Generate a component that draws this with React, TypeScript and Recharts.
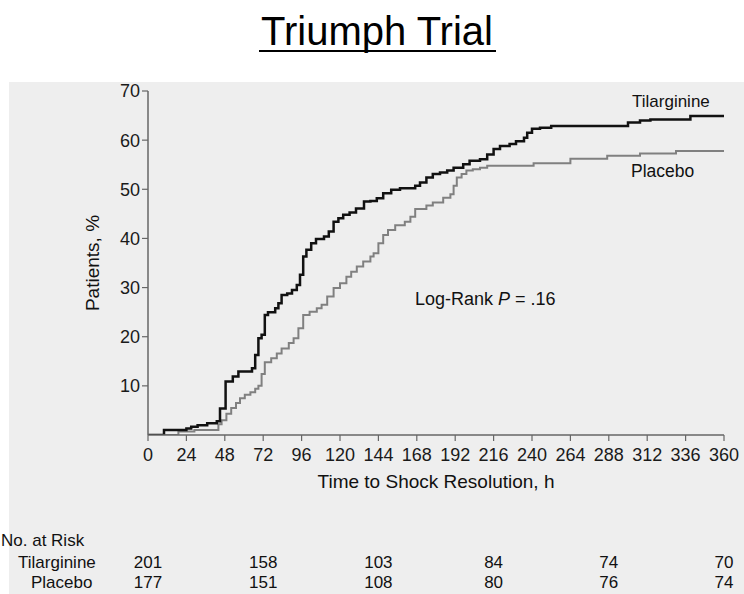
import React from 'react';
import { LineChart, Line, XAxis, YAxis } from 'recharts';

// ---- data ----
const tilargTimes = [0, 10, 24, 27, 31, 37, 43, 45, 48.5, 53, 56.5, 65, 67, 69, 71, 73, 75, 79.5, 81.5, 83.5, 87, 90, 93, 95, 97, 99, 102, 105, 110, 113, 116, 119, 122, 126, 130, 135, 139, 143, 147, 152, 157.5, 167, 170, 174, 178, 182.5, 187, 191, 197, 201, 207.5, 212, 216, 220, 226, 230, 235, 237, 240, 245, 252, 300, 307.5, 314, 339, 360];
const tilargValues = [0, 1.0, 1.3, 1.7, 2.0, 2.4, 2.8, 5.4, 10.9, 11.9, 12.9, 13.6, 16.3, 19.7, 20.4, 24.4, 25, 25.8, 26.8, 28.5, 28.8, 29.5, 30.5, 32.6, 36.3, 37.7, 39, 39.9, 40.4, 41.4, 43.4, 44.1, 44.8, 45.3, 46.1, 47.5, 47.6, 48.2, 49.2, 49.9, 50.2, 50.7, 51.4, 52.4, 53.1, 53.4, 53.8, 54.4, 55.1, 55.8, 56.1, 57.1, 58.2, 58.8, 59.2, 59.8, 60.5, 61.5, 62.3, 62.5, 62.9, 63.6, 64, 64.2, 64.9, 65];

const placeboTimes = [0, 19, 29, 44, 46, 49, 52, 55, 57.5, 60.5, 64, 67, 69, 71, 73, 77, 80.5, 83.5, 88, 91, 94, 97, 101, 105.5, 108.5, 112, 116, 120, 124, 127, 130.5, 134.5, 139, 141, 144, 147, 150, 154.5, 160.5, 164, 167, 174, 178, 184.5, 189, 191, 193, 196, 199, 203, 207.5, 212, 241, 264, 287, 307.5, 330, 360];
const placeboValues = [0, 0.7, 1.0, 2.2, 3.0, 4.3, 5.5, 6.5, 7.5, 8.2, 8.7, 9.4, 10, 12.4, 14.8, 15.6, 16.6, 17.6, 18.7, 19.7, 21.7, 24.4, 25.1, 25.8, 26.5, 28.2, 29.9, 30.9, 32.2, 33.2, 34.3, 35.3, 36.3, 37, 39, 40.7, 41.7, 42.7, 43.4, 44.4, 46, 46.7, 47.3, 48.3, 49, 50.7, 52.4, 53.1, 53.8, 54.1, 54.4, 54.8, 55.3, 56.2, 56.8, 57.3, 57.8, 58];

const xTicks = [0, 24, 48, 72, 96, 120, 144, 168, 192, 216, 240, 264, 288, 312, 336, 360];
const yTicks = [10, 20, 30, 40, 50, 60, 70];

const riskTimes = [0, 72, 144, 216, 288, 360];
const riskTilarginine = [201, 158, 103, 84, 74, 70];
const riskPlacebo = [177, 151, 108, 80, 76, 74];

const X_DOMAIN: [number, number] = [0, 360];
const Y_DOMAIN: [number, number] = [0, 70];

// ---- layout ----
const W = 744;
const H = 594;
const PLOT_LEFT = 148;
const PLOT_TOP = 91;
const PLOT_RIGHT = 724;
const PLOT_BOTTOM = 435;
const Y_AXIS_W = 40;
const X_AXIS_H = 30;
const FONT = '"Liberation Sans", Arial, Helvetica, sans-serif';

const tilData = tilargTimes.map((t, i) => ({ t, v: tilargValues[i] }));
const plaData = placeboTimes.map((t, i) => ({ t, v: placeboValues[i] }));

const xPos = (t: number) =>
  PLOT_LEFT + ((t - X_DOMAIN[0]) / (X_DOMAIN[1] - X_DOMAIN[0])) * (PLOT_RIGHT - PLOT_LEFT);

export default function App() {
  return (
    <div style={{ position: 'absolute', left: 0, top: 0, width: W, height: H, background: '#ffffff', overflow: 'hidden', fontFamily: FONT }}>
      <div style={{ position: 'absolute', left: 9, top: 82, width: W - 9, height: H - 82, background: '#eeeeee' }} />
      <div style={{ position: 'absolute', left: 0, top: 0 }}>
        <LineChart
          width={W}
          height={H}
          margin={{ top: PLOT_TOP, right: W - PLOT_RIGHT, bottom: H - PLOT_BOTTOM - X_AXIS_H, left: PLOT_LEFT - Y_AXIS_W }}
        >
          <XAxis
            dataKey="t"
            type="number"
            domain={X_DOMAIN}
            ticks={xTicks}
            interval={0}
            allowDataOverflow
            height={X_AXIS_H}
            tickSize={6}
            tickMargin={7}
            axisLine={{ stroke: '#666666', strokeWidth: 1.5 }}
            tickLine={{ stroke: '#666666', strokeWidth: 1.2 }}
            tick={{ fontSize: 18, fill: '#1a1a1a', fontFamily: FONT }}
          />
          <YAxis
            dataKey="v"
            type="number"
            domain={Y_DOMAIN}
            ticks={yTicks}
            interval={0}
            allowDataOverflow
            width={Y_AXIS_W}
            tickSize={6}
            tickMargin={2}
            axisLine={{ stroke: '#666666', strokeWidth: 1.5 }}
            tickLine={{ stroke: '#666666', strokeWidth: 1.2 }}
            tick={{ fontSize: 18, fill: '#1a1a1a', fontFamily: FONT }}
          />
          <Line
            data={plaData}
            dataKey="v"
            type="stepAfter"
            stroke="#808080"
            strokeWidth={2}
            dot={false}
            activeDot={false}
            isAnimationActive={false}
          />
          <Line
            data={tilData}
            dataKey="v"
            type="stepAfter"
            stroke="#111111"
            strokeWidth={2.5}
            dot={false}
            activeDot={false}
            isAnimationActive={false}
          />
        </LineChart>
      </div>
      <svg width={W} height={H} style={{ position: 'absolute', left: 0, top: 0, pointerEvents: 'none' }}>
        <text x={377} y={45} textAnchor="middle" fontSize={40} fill="#000" fontFamily={FONT}>
          Triumph Trial
        </text>
        <line x1={259} x2={496} y1={51} y2={51} stroke="#000" strokeWidth={2} />
        <text x={632} y={107} fontSize={17} fill="#111" fontFamily={FONT}>Tilarginine</text>
        <text x={631} y={177} fontSize={17.5} fill="#111" fontFamily={FONT}>Placebo</text>
        <text x={415} y={305} fontSize={18} fill="#111" fontFamily={FONT}>
          Log-Rank <tspan fontStyle="italic">P</tspan> = .16
        </text>
        <text x={93} y={263} fontSize={19} fill="#111" fontFamily={FONT} textAnchor="middle" transform="rotate(-90 93 263)" dy={6}>
          Patients, %
        </text>
        <text x={436} y={488} fontSize={19} fill="#111" fontFamily={FONT} textAnchor="middle">
          Time to Shock Resolution, h
        </text>
        <text x={1} y={546} fontSize={17} fill="#111" fontFamily={FONT}>No. at Risk</text>
        <text x={18} y={568} fontSize={17} fill="#111" fontFamily={FONT}>Tilarginine</text>
        <text x={31} y={588} fontSize={17} fill="#111" fontFamily={FONT}>Placebo</text>
        {riskTimes.map((t, i) => (
          <text key={'a' + t} x={xPos(t)} y={568} fontSize={17} fill="#111" fontFamily={FONT} textAnchor="middle">
            {riskTilarginine[i]}
          </text>
        ))}
        {riskTimes.map((t, i) => (
          <text key={'b' + t} x={xPos(t)} y={588} fontSize={17} fill="#111" fontFamily={FONT} textAnchor="middle">
            {riskPlacebo[i]}
          </text>
        ))}
      </svg>
    </div>
  );
}
